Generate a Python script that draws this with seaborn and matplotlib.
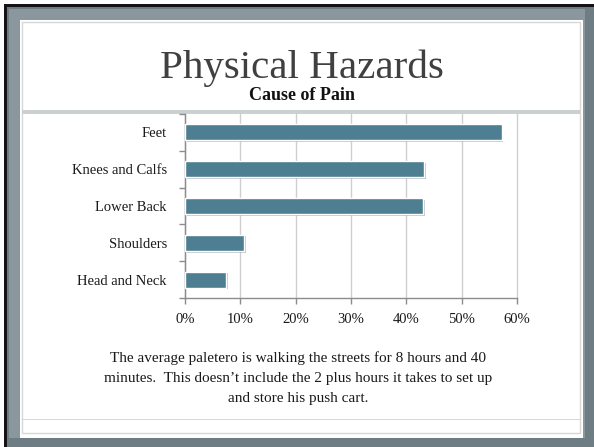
"""Recreate the 'Physical Hazards / Cause of Pain' slide chart."""
import numpy as np
import pandas as pd
import matplotlib
matplotlib.use('Agg')
import matplotlib.pyplot as plt
import matplotlib.patheffects as pe
from matplotlib.patches import Rectangle
from matplotlib.ticker import PercentFormatter, FixedLocator
import seaborn as sns

# --- data -------------------------------------------------------------------
categories = ['Feet', 'Knees and Calfs', 'Lower Back', 'Shoulders', 'Head and Neck']
pain_share = [0.572, 0.432, 0.431, 0.107, 0.074]
title = 'Physical Hazards'
chart_title = 'Cause of Pain'
note_lines = [
    'The average paletero is walking the streets for 8 hours and 40',
    'minutes.  This doesn\u2019t include the 2 plus hours it takes to set up',
    'and store his push cart.',
]

BAR_COLOR = '#4e7e91'
W, H = 594, 447

sns.set_theme(style='white')
plt.rcParams['font.family'] = ['Liberation Serif', 'DejaVu Serif']

fig = plt.figure(figsize=(W / 100, H / 100), dpi=100)
fig.patch.set_facecolor('white')


def px_rect(x0, y0, x1, y1, **kw):
    """Rectangle in figure pixel coords (y measured from the top)."""
    r = Rectangle((x0 / W, 1 - y1 / H), (x1 - x0) / W, (y1 - y0) / H,
                  transform=fig.transFigure, **kw)
    fig.add_artist(r)
    return r


# slide frame
px_rect(4, 4, W + 2, H + 2, facecolor='#141414', edgecolor='none', zorder=0)
px_rect(7, 7, W + 2, H + 2, facecolor='#6e7d83', edgecolor='none', zorder=0)
px_rect(9, 9, W - 9, H - 9, facecolor='#8a979c', edgecolor='none', zorder=0)
px_rect(20, 20, 583, 438, facecolor='white', edgecolor='none', zorder=0)
px_rect(22, 22, 580, 433, facecolor='none', edgecolor='#d6d8d6', lw=1, zorder=0)
px_rect(22, 110, 580, 114, facecolor='#cbd0d0', edgecolor='none', zorder=0)
px_rect(22, 418.5, 580, 419.5, facecolor='#d6d8d6', edgecolor='none', zorder=0)

# slide title + chart title
fig.text(302 / W, 1 - 78 / H, title, ha='center', va='baseline',
         fontsize=29.5, color='#404040')
fig.text(302 / W, 1 - 99.5 / H, chart_title, ha='center', va='baseline',
         fontsize=13, fontweight='bold', color='#111111')

# --- chart ------------------------------------------------------------------
ax = fig.add_axes([185 / W, 1 - 298 / H, (517 - 185) / W, (298 - 114) / H])
ax.set_facecolor('none')
df = pd.DataFrame({'category': categories, 'share': pain_share})
sns.barplot(data=df, x='share', y='category', orient='h', color=BAR_COLOR,
            saturation=1, width=0.44, ax=ax, zorder=3)
for bar in ax.patches:
    bar.set_path_effects([pe.SimplePatchShadow(offset=(1.2, -1.2),
                                               shadow_rgbFace='#9aa3a6', alpha=0.6),
                          pe.Normal()])

ax.set_xlim(0, 0.6)
ax.set_ylim(len(categories) - 0.5, -0.5)
ax.xaxis.set_major_locator(FixedLocator(np.arange(0, 0.61, 0.1)))
ax.xaxis.set_major_formatter(PercentFormatter(1.0, decimals=0))
ax.grid(axis='x', color='#cfcfcf', lw=1, zorder=0)
for gl in ax.get_xgridlines():
    gl.set_clip_on(False)
ax.grid(axis='y', visible=False)
ax.set_xlabel('')
ax.set_ylabel('')

for side in ('top', 'right'):
    ax.spines[side].set_visible(False)
for side in ('left', 'bottom'):
    ax.spines[side].set_color('#8c8c8c')
    ax.spines[side].set_linewidth(1)

ax.tick_params(axis='x', which='major', direction='out', length=4, width=1,
               color='#8c8c8c', labelsize=10.5, labelcolor='#1a1a1a', pad=7,
               bottom=True)
ax.tick_params(axis='y', which='major', length=0, labelsize=10.5,
               labelcolor='#1a1a1a', pad=13)
ax.yaxis.set_minor_locator(FixedLocator(np.arange(-0.5, len(categories), 1.0)))
ax.tick_params(axis='y', which='minor', direction='out', length=4, width=1,
               color='#8c8c8c', left=True)

# note under the chart
for i, line in enumerate(note_lines):
    fig.text(298 / W, 1 - (362 + 20 * i) / H, line, ha='center', va='baseline',
             fontsize=11, color='#1a1a1a')

fig.savefig('out.png', dpi=100, facecolor=fig.get_facecolor())
plt.close(fig)
